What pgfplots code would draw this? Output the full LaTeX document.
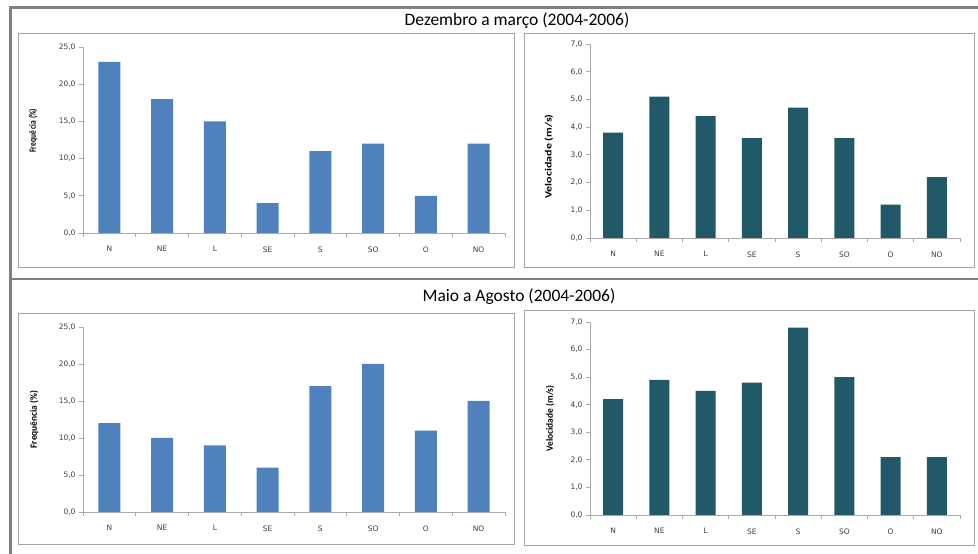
\documentclass[border=0pt]{standalone}
\usepackage{pgfplots}
\pgfplotsset{compat=1.18}
\usepackage{graphicx}
\usepackage{fontspec}
\setmainfont{Carlito}
\newfontfamily\tickfont{DejaVu Sans}
\definecolor{barblue}{RGB}{79,129,189}
\definecolor{barteal}{RGB}{33,89,104}
\definecolor{framegray}{RGB}{165,165,165}
\definecolor{axgray}{RGB}{170,170,170}
\definecolor{outergray}{RGB}{128,128,128}
\definecolor{ticktext}{RGB}{60,60,60}

\pgfplotsset{
 panel/.style={
  scale only axis, anchor=south west,
  axis lines=left, axis line style={-, draw=axgray, line width=0.8pt},
  xmin=-0.5, xmax=7.5,
  xtick={-0.5,0.5,...,7.5}, xticklabels={},
  extra x ticks={0,1,2,3,4,5,6,7},
  extra x tick labels={N,NE,L,SE,S,SO,O,NO},
  extra x tick style={major tick length=0pt, tick label style={yshift=-10pt}},
  tick align=outside, major tick length=4pt,
  tick style={draw=axgray, line width=0.8pt},
  tick label style={font=\tickfont\fontsize{7.5}{8}\selectfont, text=ticktext},
  yticklabel style={/pgf/number format/.cd, fixed, fixed zerofill, precision=1, use comma, assume math mode=true},
  ymin=0, clip=false,
  ybar, bar shift=0pt,
  ylabel style={anchor=center, font=\fontsize{9.5}{10}\selectfont\bfseries},
 },
}

\pgfplotstableread{
x f1 v1 f2 v2
0 23 3.8 12 4.2
1 18 5.1 10 4.9
2 15 4.4 9 4.5
3 4 3.6 6 4.8
4 11 4.7 17 6.8
5 12 3.6 20 5.0
6 5 1.2 11 2.1
7 12 2.2 15 2.1
}\windtable

\begin{document}
\begin{tikzpicture}
\path[use as bounding box] (0pt,0pt) rectangle (978pt,554pt);
% outer frame lines
\draw[outergray, line width=3pt] (9pt,546pt) -- (978pt,546pt);
\draw[outergray, line width=2.5pt] (10.5pt,547pt) -- (10.5pt,0pt);
\draw[outergray, line width=2.5pt] (9pt,275pt) -- (978pt,275pt);
% panel frames
\draw[framegray, line width=0.8pt] (18pt,287pt) rectangle (514pt,521pt);
\draw[framegray, line width=0.8pt] (524pt,287pt) rectangle (974pt,521pt);
\draw[framegray, line width=0.8pt] (18pt,10pt) rectangle (514pt,241pt);
\draw[framegray, line width=0.8pt] (524pt,9pt) rectangle (974pt,244pt);
% titles
\node[font=\fontsize{17.5}{19}\selectfont] at (517pt,533pt) {Dezembro a março (2004-2006)};
\node[font=\fontsize{17.5}{19}\selectfont] at (519pt,257pt) {Maio a Agosto (2004-2006)};

% top left
\begin{axis}[panel, at={(83pt,321pt)}, width=422pt, height=186pt,
  ymax=25, ytick={0,5,...,25}, bar width=22pt,
  ylabel={\resizebox{44pt}{\height}{Frequê cia (\%)}},
  ylabel style={at={(axis description cs:-0.118,0.55)}}]
\addplot[fill=barblue, draw=none] table[x=x, y=f1] {\windtable};
\end{axis}

% top right
\begin{axis}[panel, at={(590pt,316pt)}, width=370pt, height=194pt,
  ymax=7, ytick={0,1,...,7}, bar width=20pt,
  ylabel={\resizebox{84pt}{\height}{Velocidade (m/s)}},
  ylabel style={at={(axis description cs:-0.111,0.42)}}]
\addplot[fill=barteal, draw=none] table[x=x, y=v1] {\windtable};
\end{axis}

% bottom left
\begin{axis}[panel, at={(83pt,42pt)}, width=422pt, height=185pt,
  ymax=25, ytick={0,5,...,25}, bar width=22pt,
  ylabel={\resizebox{58pt}{\height}{Frequência (\%)}},
  ylabel style={at={(axis description cs:-0.116,0.50)}}]
\addplot[fill=barblue, draw=none] table[x=x, y=f2] {\windtable};
\end{axis}

% bottom right
\begin{axis}[panel, at={(590pt,39pt)}, width=370pt, height=193pt,
  ymax=7, ytick={0,1,...,7}, bar width=20pt,
  ylabel={\resizebox{66pt}{\height}{Velocidade (m/s)}},
  ylabel style={at={(axis description cs:-0.108,0.50)}}]
\addplot[fill=barteal, draw=none] table[x=x, y=v2] {\windtable};
\end{axis}
\end{tikzpicture}
\end{document}
